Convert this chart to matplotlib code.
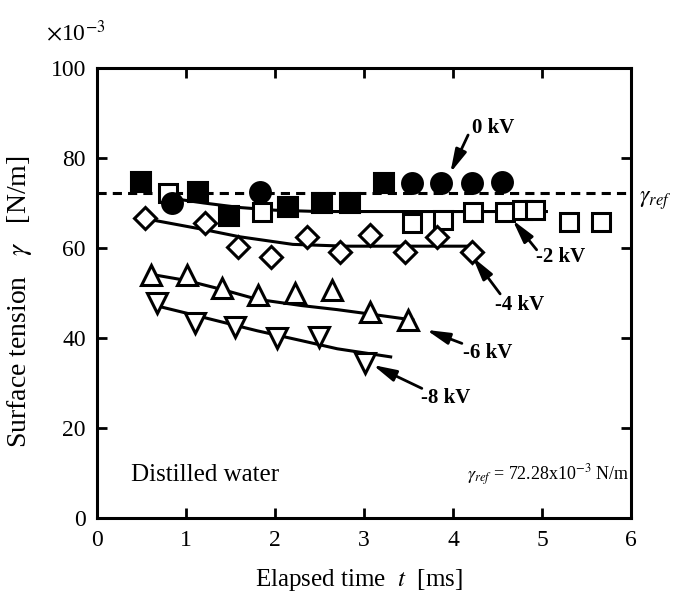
import numpy as np
import matplotlib
matplotlib.use('Agg')
import matplotlib.pyplot as plt

plt.rcParams['font.family'] = ['Liberation Serif', 'DejaVu Serif']
plt.rcParams['mathtext.fontset'] = 'stix'

# reference surface tension (x1e-3 N/m)
gamma_ref = 72.28

# 0 kV (filled squares and filled circles)
t_0kv_sq = [0.50, 1.14, 1.48, 2.15, 2.53, 2.84, 3.22]
v_0kv_sq = [74.7, 72.5, 67.0, 69.2, 69.9, 69.9, 74.4]
t_0kv_ci = [0.84, 1.83, 3.54, 3.87, 4.21, 4.55]
v_0kv_ci = [69.9, 72.5, 74.4, 74.4, 74.4, 74.7]

# -2 kV (open squares)
t_2kv = [0.80, 1.85, 3.54, 3.89, 4.23, 4.58, 4.77, 4.92, 5.30, 5.66]
v_2kv = [72.2, 68.1, 65.5, 66.2, 68.1, 68.1, 68.4, 68.4, 65.7, 65.7]
fit_t_2kv = [0.85, 1.2, 1.6, 2.0, 2.5, 5.05]
fit_v_2kv = [71.0, 70.0, 69.0, 68.4, 68.1, 68.1]

# -4 kV (open diamonds)
t_4kv = [0.54, 1.21, 1.59, 1.96, 2.36, 2.73, 3.07, 3.46, 3.82, 4.21]
v_4kv = [66.6, 65.5, 60.3, 58.1, 62.5, 59.2, 62.9, 59.2, 62.5, 59.2]
fit_t_4kv = [0.6, 1.2, 1.6, 2.2, 2.8, 4.2]
fit_v_4kv = [66.3, 64.1, 62.5, 60.8, 60.4, 60.4]

# -6 kV (open up triangles)
t_6kv = [0.61, 1.01, 1.40, 1.81, 2.22, 2.64, 3.07, 3.50]
v_6kv = [54.0, 54.0, 51.0, 49.6, 49.9, 50.7, 45.8, 44.0]
fit_t_6kv = [0.65, 1.0, 1.4, 1.8, 2.3, 2.7, 3.0, 3.55]
fit_v_6kv = [54.0, 52.8, 50.8, 48.6, 47.2, 46.3, 45.5, 44.0]

# -8 kV (open down triangles)
t_8kv = [0.67, 1.10, 1.55, 2.02, 2.49, 3.01]
v_8kv = [47.7, 43.3, 42.5, 39.9, 40.3, 34.4]
fit_t_8kv = [0.7, 1.05, 1.8, 2.3, 2.7, 3.3]
fit_v_8kv = [47.0, 45.3, 41.6, 39.4, 37.6, 35.8]

# curve labels: text, label position, arrow tail, arrow tip
labels = ['0 kV', '-2 kV', '-4 kV', '-6 kV', '-8 kV']
label_pos = [(4.45, 86.7), (5.21, 58.0), (4.75, 47.3), (4.39, 36.7), (3.92, 26.7)]
arrow_tail = [(4.17, 85.1), (4.94, 59.6), (4.53, 49.8), (4.10, 38.8), (3.65, 28.8)]
arrow_tip = [(3.97, 76.7), (4.67, 66.2), (4.22, 58.0), (3.70, 41.8), (3.10, 34.0)]

fig = plt.figure(figsize=(6.8, 6.0), dpi=100)
ax = fig.add_axes([0.1426, 0.1367, 0.7853, 0.75])

# fitted lines
for ft, fv in [(fit_t_2kv, fit_v_2kv), (fit_t_4kv, fit_v_4kv),
               (fit_t_6kv, fit_v_6kv), (fit_t_8kv, fit_v_8kv)]:
    ax.plot(ft, fv, color='black', lw=2.2, zorder=2)

ax.axhline(gamma_ref, color='black', lw=2.2, ls=(0, (3, 2)), zorder=1)

open_kw = dict(ls='none', mfc='white', mec='black', mew=2.2, zorder=3)
ax.plot(t_2kv, v_2kv, marker='s', ms=13, **open_kw)
ax.plot(t_4kv, v_4kv, marker='D', ms=11, **open_kw)
ax.plot(t_6kv, v_6kv, marker='^', ms=14.5, **open_kw)
ax.plot(t_8kv, v_8kv, marker='v', ms=14.5, **open_kw)

filled_kw = dict(ls='none', mfc='black', mec='black', mew=1.5, zorder=4)
ax.plot(t_0kv_sq, v_0kv_sq, marker='s', ms=14, **filled_kw)
ax.plot(t_0kv_ci, v_0kv_ci, marker='o', ms=15, **filled_kw)

for lab, pos, tail, tip in zip(labels, label_pos, arrow_tail, arrow_tip):
    ax.annotate('', xy=tip, xytext=tail,
                arrowprops=dict(arrowstyle='-|>,head_length=1.0,head_width=0.25',
                                color='black', lw=2.0, shrinkA=0, shrinkB=0,
                                mutation_scale=14), zorder=5)
    ax.text(pos[0], pos[1], lab, ha='center', va='center', fontsize=15,
            fontweight='bold')

ax.text(0.38, 9.5, 'Distilled water', fontsize=18, ha='left', va='center')
ax.text(5.98, 9.5, r'$\gamma_{ref}$ = 72.28x10$^{-3}$ N/m', fontsize=13,
        ha='right', va='center')
ax.text(1.015, (gamma_ref - 1.8) / 100, r'$\gamma_{ref}$', transform=ax.transAxes,
        fontsize=17, ha='left', va='center')
ax.text(-0.095, 1.05, r'$\times$10$^{-3}$', transform=ax.transAxes,
        fontsize=17, ha='left', va='bottom')

ax.set_xlim(0, 6)
ax.set_ylim(0, 100)
ax.set_xticks(np.arange(0, 7, 1))
ax.set_yticks(np.arange(0, 101, 20))
ax.tick_params(direction='in', length=7, width=2.0, top=True, right=True,
               labelsize=17)
ax.tick_params(axis='x', pad=9)
ax.tick_params(axis='y', pad=8)
for sp in ax.spines.values():
    sp.set_linewidth(2.2)

ax.set_xlabel(r'Elapsed time  $t$  [ms]', fontsize=18)
ax.set_ylabel(r'Surface tension   $\gamma$   [N/m]', fontsize=20)
ax.xaxis.set_label_coords(0.49, -0.11)
ax.yaxis.set_label_coords(-0.118, 0.48)

fig.savefig('out.png', dpi=100)
